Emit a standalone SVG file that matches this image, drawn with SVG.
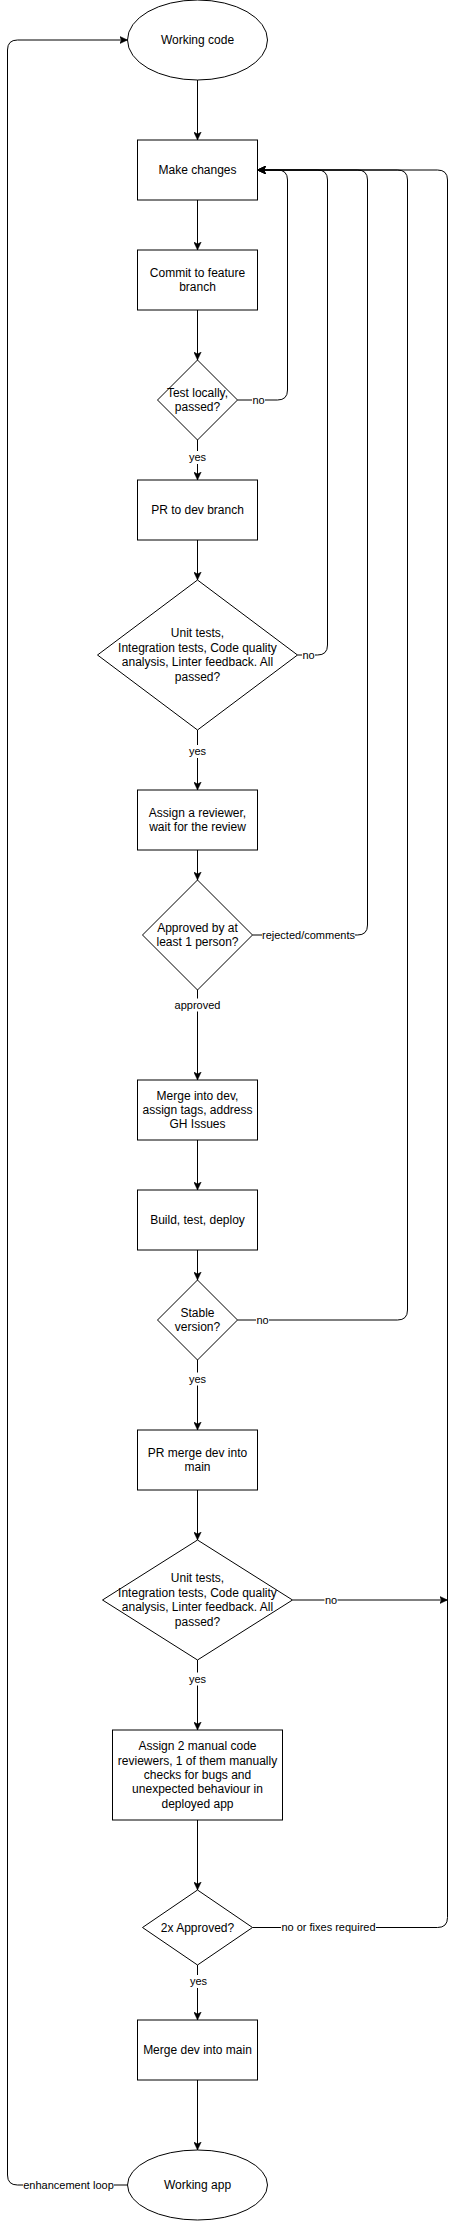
<svg xmlns="http://www.w3.org/2000/svg" width="456" height="2221" viewBox="0 0 456 2221">
<defs>
<style>
.n{fill:#fff;stroke:#000;stroke-width:1}
.t{font-family:"Liberation Sans",Arial,Helvetica,sans-serif;font-size:12px;fill:#000;text-anchor:middle}
.e{fill:none;stroke:#000;stroke-width:1}
.a{marker-end:url(#arr)}
.lb{fill:#fff}
.l{font-family:"Liberation Sans",Arial,Helvetica,sans-serif;font-size:11px;fill:#000;text-anchor:middle}
</style>
<marker id="arr" viewBox="0 0 8 8" refX="8" refY="4" markerWidth="8" markerHeight="8" markerUnits="userSpaceOnUse" orient="auto">
<path d="M0,0.3 L8,4 L0,7.7 L2,4 Z" fill="#000" stroke="#000" stroke-width="0.5"/>
</marker>
</defs>
<rect width="456" height="2221" fill="#fff"/>
<g id="connectors">
<path class="e a" d="M197.5,80 L197.5,140"/>
<path class="e a" d="M197.5,200 L197.5,250"/>
<path class="e a" d="M197.5,310 L197.5,360"/>
<path class="e a" d="M197.5,440 L197.5,480"/>
<path class="e a" d="M197.5,540 L197.5,580"/>
<path class="e a" d="M197.5,730 L197.5,790"/>
<path class="e a" d="M197.5,850 L197.5,880"/>
<path class="e a" d="M197.5,990 L197.5,1080"/>
<path class="e a" d="M197.5,1140 L197.5,1190"/>
<path class="e a" d="M197.5,1250 L197.5,1280"/>
<path class="e a" d="M197.5,1360 L197.5,1430"/>
<path class="e a" d="M197.5,1490 L197.5,1540"/>
<path class="e a" d="M197.5,1660 L197.5,1730"/>
<path class="e a" d="M197.5,1820 L197.5,1890"/>
<path class="e a" d="M197.5,1965 L197.5,2020"/>
<path class="e a" d="M197.5,2080 L197.5,2150"/>
<path class="e a" d="M237.5,400 L277.5,400 Q287.5,400 287.5,390 L287.5,180 Q287.5,170 277.5,170 L257.5,170"/>
<path class="e a" d="M297.5,655 L317.5,655 Q327.5,655 327.5,645 L327.5,180 Q327.5,170 317.5,170 L257.5,170"/>
<path class="e a" d="M252.5,935 L357.5,935 Q367.5,935 367.5,925 L367.5,180 Q367.5,170 357.5,170 L257.5,170"/>
<path class="e a" d="M237.5,1320 L397.5,1320 Q407.5,1320 407.5,1310 L407.5,180 Q407.5,170 397.5,170 L257.5,170"/>
<path class="e a" d="M292.5,1600 L447.5,1600"/>
<path class="e a" d="M252.5,1927.5 L437.5,1927.5 Q447.5,1927.5 447.5,1917.5 L447.5,180 Q447.5,170 437.5,170 L257.5,170"/>
<path class="e a" d="M127.5,2185 L17.5,2185 Q7.5,2185 7.5,2175 L7.5,50 Q7.5,40 17.5,40 L127.5,40"/>
<g id="edge-labels">
<rect class="lb" x="188" y="451" width="19" height="13"/><text class="l" x="197.5" y="461">yes</text>
<rect class="lb" x="252" y="394" width="13" height="13"/><text class="l" x="258.5" y="404">no</text>
<rect class="lb" x="302" y="649" width="13" height="13"/><text class="l" x="308.5" y="659">no</text>
<rect class="lb" x="188" y="745" width="19" height="13"/><text class="l" x="197.5" y="755">yes</text>
<rect class="lb" x="262" y="929" width="93" height="13"/><text class="l" x="308.5" y="939">rejected/comments</text>
<rect class="lb" x="174.5" y="998.5" width="46" height="13"/><text class="l" x="197.5" y="1008.5">approved</text>
<rect class="lb" x="256" y="1314" width="13" height="13"/><text class="l" x="262.5" y="1324">no</text>
<rect class="lb" x="188" y="1372.5" width="19" height="13"/><text class="l" x="197.5" y="1382.5">yes</text>
<rect class="lb" x="324.5" y="1594" width="13" height="13"/><text class="l" x="331" y="1604">no</text>
<rect class="lb" x="188" y="1672.5" width="19" height="13"/><text class="l" x="197.5" y="1682.5">yes</text>
<rect class="lb" x="281" y="1921" width="95" height="13"/><text class="l" x="328.5" y="1931">no or fixes required</text>
<rect class="lb" x="189" y="1975" width="19" height="13"/><text class="l" x="198.5" y="1985">yes</text>
<rect class="lb" x="23" y="2179" width="91" height="13"/><text class="l" x="68.5" y="2189">enhancement loop</text>
</g>
</g>
<g id="working-code"><ellipse class="n" cx="197.5" cy="40" rx="70" ry="40"/><text class="t" x="197.5" y="44">Working code</text></g>
<g id="make-changes"><rect class="n" x="137.5" y="140" width="120" height="60"/><text class="t" x="197.5" y="174">Make changes</text></g>
<g id="commit-feature"><rect class="n" x="137.5" y="250" width="120" height="60"/><text class="t" x="197.5" y="276.8">Commit to feature</text><text class="t" x="197.5" y="291.2">branch</text></g>
<g id="test-locally"><polygon class="n" points="197.5,360 237.5,400 197.5,440 157.5,400"/><text class="t" x="197.5" y="396.8">Test locally,</text><text class="t" x="197.5" y="411.2">passed?</text></g>
<g id="pr-dev"><rect class="n" x="137.5" y="480" width="120" height="60"/><text class="t" x="197.5" y="514">PR to dev branch</text></g>
<g id="ci-dev"><polygon class="n" points="197.5,580 297.5,655 197.5,730 97.5,655"/><text class="t" x="197.5" y="637.4">Unit tests,</text><text class="t" x="197.5" y="651.8">Integration tests, Code quality</text><text class="t" x="197.5" y="666.2">analysis, Linter feedback. All</text><text class="t" x="197.5" y="680.6">passed?</text></g>
<g id="assign-reviewer"><rect class="n" x="137.5" y="790" width="120" height="60"/><text class="t" x="197.5" y="816.8">Assign a reviewer,</text><text class="t" x="197.5" y="831.2">wait for the review</text></g>
<g id="approved-1"><polygon class="n" points="197.5,880 252.5,935 197.5,990 142.5,935"/><text class="t" x="197.5" y="931.8">Approved by at</text><text class="t" x="197.5" y="946.2">least 1 person?</text></g>
<g id="merge-dev"><rect class="n" x="137.5" y="1080" width="120" height="60"/><text class="t" x="197.5" y="1099.6">Merge into dev,</text><text class="t" x="197.5" y="1114">assign tags, address</text><text class="t" x="197.5" y="1128.4">GH Issues</text></g>
<g id="build-test-deploy"><rect class="n" x="137.5" y="1190" width="120" height="60"/><text class="t" x="197.5" y="1224">Build, test, deploy</text></g>
<g id="stable-version"><polygon class="n" points="197.5,1280 237.5,1320 197.5,1360 157.5,1320"/><text class="t" x="197.5" y="1316.8">Stable</text><text class="t" x="197.5" y="1331.2">version?</text></g>
<g id="pr-main"><rect class="n" x="137.5" y="1430" width="120" height="60"/><text class="t" x="197.5" y="1456.8">PR merge dev into</text><text class="t" x="197.5" y="1471.2">main</text></g>
<g id="ci-main"><polygon class="n" points="197.5,1540 292.5,1600 197.5,1660 102.5,1600"/><text class="t" x="197.5" y="1582.4">Unit tests,</text><text class="t" x="197.5" y="1596.8">Integration tests, Code quality</text><text class="t" x="197.5" y="1611.2">analysis, Linter feedback. All</text><text class="t" x="197.5" y="1625.6">passed?</text></g>
<g id="assign-2"><rect class="n" x="112.5" y="1730" width="170" height="90"/><text class="t" x="197.5" y="1750.2">Assign 2 manual code</text><text class="t" x="197.5" y="1764.6">reviewers, 1 of them manually</text><text class="t" x="197.5" y="1779">checks for bugs and</text><text class="t" x="197.5" y="1793.4">unexpected behaviour in</text><text class="t" x="197.5" y="1807.8">deployed app</text></g>
<g id="approved-2"><polygon class="n" points="197.5,1890 252.5,1927.5 197.5,1965 142.5,1927.5"/><text class="t" x="197.5" y="1931.5">2x Approved?</text></g>
<g id="merge-main"><rect class="n" x="137.5" y="2020" width="120" height="60"/><text class="t" x="197.5" y="2054">Merge dev into main</text></g>
<g id="working-app"><ellipse class="n" cx="197.5" cy="2185" rx="70" ry="35"/><text class="t" x="197.5" y="2189">Working app</text></g>
</svg>
